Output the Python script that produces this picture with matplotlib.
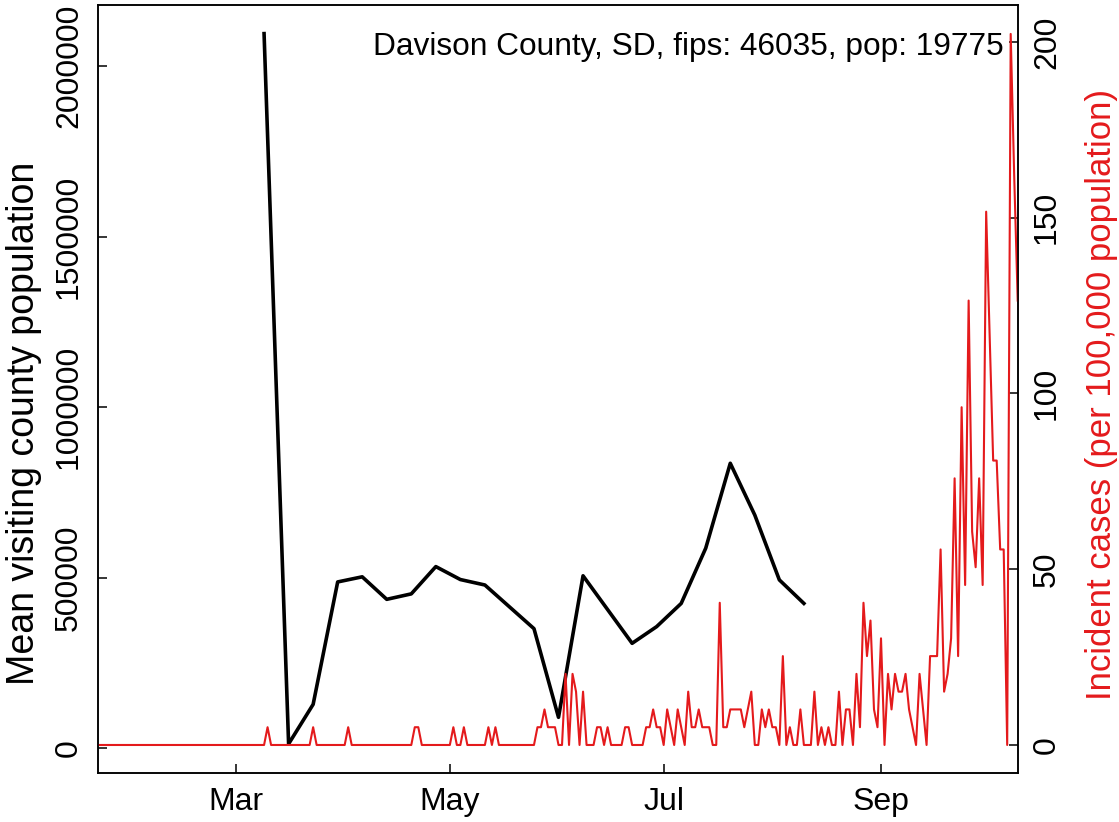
import pandas as pd
import numpy as np
import matplotlib
matplotlib.use("Agg")
import matplotlib.pyplot as plt

plt.rcParams['font.family'] = ['Liberation Sans', 'DejaVu Sans']

# county info
county_label = "Davison County, SD, fips: 46035, pop: 19775"
county_pop = 19775

# weekly mean visiting population (black line)
visit_dates = pd.to_datetime([
    "2020-03-09", "2020-03-16", "2020-03-23", "2020-03-30", "2020-04-06",
    "2020-04-13", "2020-04-20", "2020-04-27", "2020-05-04", "2020-05-11",
    "2020-05-25", "2020-06-01", "2020-06-08", "2020-06-22", "2020-06-29",
    "2020-07-06", "2020-07-13", "2020-07-20", "2020-07-27", "2020-08-03",
    "2020-08-10"])
visit_pop = [2095000, 12000, 128000, 487000, 502000,
             436000, 452000, 532000, 494000, 478000,
             350000, 90000, 505000, 307000, 356000,
             424000, 586000, 835000, 683000, 493000,
             424000]

# daily new cases, 2020-01-22 .. 2020-10-10 (one list per month)
cases_jan = [0] * 10
cases_feb = [0] * 29
cases_mar = [0, 0, 0, 0, 0, 0, 0, 0, 0, 1, 0, 0, 0, 0, 0, 0, 0, 0, 0, 0,
             0, 0, 1, 0, 0, 0, 0, 0, 0, 0, 0]
cases_apr = [0, 1, 0, 0, 0, 0, 0, 0, 0, 0, 0, 0, 0, 0, 0, 0, 0, 0, 0, 0,
             1, 1, 0, 0, 0, 0, 0, 0, 0, 0]
cases_may = [0, 1, 0, 0, 1, 0, 0, 0, 0, 0, 0, 1, 0, 1, 0, 0, 0, 0, 0, 0,
             0, 0, 0, 0, 0, 1, 1, 2, 1, 1, 1]
cases_jun = [0, 0, 4, 0, 4, 3, 0, 3, 0, 0, 0, 1, 1, 0, 1, 0, 0, 0, 0, 1,
             1, 0, 0, 0, 0, 1, 1, 2, 1, 1]
cases_jul = [0, 2, 1, 0, 2, 1, 0, 3, 1, 1, 2, 1, 1, 1, 0, 0, 8, 1, 1, 2,
             2, 2, 2, 1, 2, 3, 0, 0, 2, 1, 2]
cases_aug = [1, 1, 0, 5, 0, 1, 0, 0, 2, 0, 0, 0, 3, 0, 1, 0, 1, 0, 0, 3,
             0, 2, 2, 0, 4, 1, 8, 5, 7, 2, 1]
cases_sep = [6, 0, 4, 2, 4, 3, 3, 4, 2, 1, 0, 4, 2, 0, 5, 5, 5, 11, 3, 4,
             6, 15, 5, 19, 9, 25, 12, 10, 15, 9]
cases_oct = [30, 23, 16, 16, 11, 11, 0, 40, 32, 25]

daily_cases = (cases_jan + cases_feb + cases_mar + cases_apr + cases_may +
               cases_jun + cases_jul + cases_aug + cases_sep + cases_oct)
case_dates = pd.date_range("2020-01-22", periods=len(daily_cases), freq="D")
incidence = np.array(daily_cases) * 100000 / county_pop

month_ticks = pd.to_datetime(["2020-03-01", "2020-05-01", "2020-07-01", "2020-09-01"])
month_labels = ["Mar", "May", "Jul", "Sep"]

red = "#E41A1C"
fs = 23

fig = plt.figure(figsize=(11.19, 8.22), dpi=100)
ax = fig.add_axes([98 / 1119, 1 - 773 / 822, 920 / 1119, 768 / 822])
ax2 = ax.twinx()

ax.plot(visit_dates, visit_pop, color="black", lw=2.6)
ax2.plot(case_dates, incidence, color=red, lw=1.5)

x0 = case_dates[0] - pd.Timedelta(hours=9)
x1 = case_dates[-1] + pd.Timedelta(hours=2)
ax.set_xlim(x0, x1)
ax2.set_xlim(x0, x1)
ax.set_ylim(-73300, 2178900)
ax2.set_ylim(-7.97, 210.5)

ax.set_xticks(month_ticks)
ax.set_xticklabels(month_labels)
ax.set_yticks([0, 500000, 1000000, 1500000, 2000000])
ax.set_yticklabels(["0", "500000", "1000000", "1500000", "2000000"],
                   rotation=90, va="center")
ax2.set_yticks([0, 50, 100, 150, 200])
ax2.set_yticklabels(["0", "50", "100", "150", "200"], rotation=90, va="center")

for a in (ax, ax2):
    a.tick_params(direction="in", length=6.5, width=1.1, labelsize=fs, pad=10)
    for s in a.spines.values():
        s.set_linewidth(1.1)

ax.set_ylabel("Mean visiting county population", fontsize=27)
ax.yaxis.set_label_coords(-0.061, 0.455)
ax2.set_ylabel("Incident cases (per 100,000 population)", fontsize=25,
               color=red)
ax2.yaxis.set_label_coords(1.073, 0.493)

ax.text(0.984, 0.945, county_label, transform=ax.transAxes, ha="right",
        va="center", fontsize=22.8)

fig.savefig("out.png", dpi=100)
